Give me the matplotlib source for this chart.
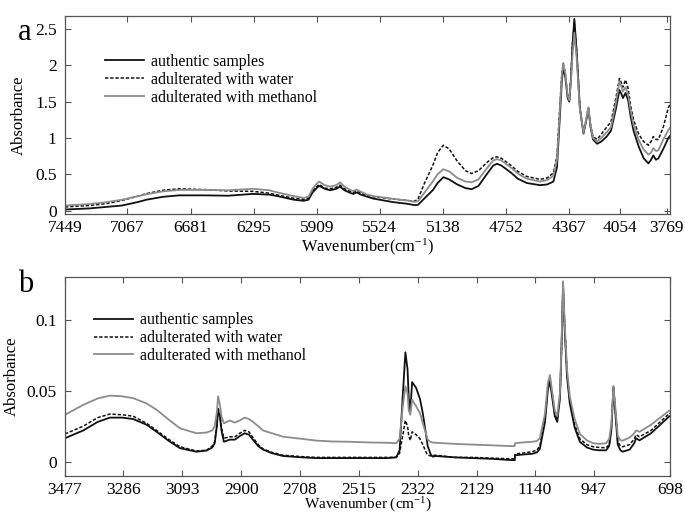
import numpy as np
import matplotlib
matplotlib.use("Agg")
import matplotlib.pyplot as plt

plt.rcParams["font.family"] = ["Liberation Serif", "DejaVu Serif"]
plt.rcParams["mathtext.fontset"] = "custom"
plt.rcParams["mathtext.rm"] = "Liberation Serif"
plt.rcParams["mathtext.it"] = "Liberation Serif:italic"

series_labels = ["authentic samples", "adulterated with water", "adulterated with methanol"]

# ---- panel a (NIR region)
wn_a = [7449, 7300, 7200, 7100, 7000, 6950, 6850, 6750, 6600, 6450,
        6300, 6200, 6150, 6050, 5990, 5960, 5935, 5910, 5895, 5860,
        5828, 5790, 5767, 5740, 5700, 5686, 5665, 5640, 5600, 5563,
        5500, 5450, 5400, 5359, 5310, 5290, 5250, 5200, 5170, 5135,
        5100, 5050, 5000, 4962, 4920, 4870, 4830, 4807, 4780, 4720,
        4680, 4625, 4544, 4500, 4462, 4440, 4425, 4410, 4402, 4390,
        4375, 4365, 4355, 4345, 4334, 4320, 4300, 4278, 4265, 4248,
        4235, 4220, 4195, 4170, 4136, 4110, 4080, 4058, 4045, 4037,
        4021, 4005, 3990, 3972, 3940, 3910, 3881, 3865, 3851, 3835,
        3820, 3790, 3759, 3749]

auth_a = [0.015, 0.03, 0.05, 0.07, 0.12, 0.15, 0.19, 0.21, 0.21, 0.205,
          0.23, 0.22, 0.20, 0.15, 0.135, 0.15, 0.25, 0.31, 0.34, 0.30,
          0.28, 0.30, 0.33, 0.28, 0.24, 0.23, 0.25, 0.22, 0.19, 0.165,
          0.14, 0.12, 0.105, 0.095, 0.075, 0.08, 0.17, 0.28, 0.38, 0.46,
          0.43, 0.36, 0.31, 0.295, 0.34, 0.50, 0.62, 0.645, 0.62, 0.52,
          0.44, 0.38, 0.35, 0.36, 0.40, 0.60, 1.2, 1.8, 1.96, 1.85,
          1.55, 1.50, 1.8, 2.3, 2.64, 2.2, 1.4, 1.06, 1.20, 1.40,
          1.15, 0.98, 0.92, 0.95, 1.02, 1.10, 1.40, 1.66, 1.60, 1.55,
          1.62, 1.52, 1.30, 1.10, 0.88, 0.72, 0.65, 0.70, 0.76, 0.70,
          0.72, 0.85, 1.00, 1.03]

water_a = [0.05, 0.07, 0.095, 0.14, 0.20, 0.235, 0.28, 0.30, 0.29, 0.27,
           0.265, 0.24, 0.215, 0.17, 0.155, 0.17, 0.27, 0.33, 0.36, 0.31,
           0.30, 0.32, 0.35, 0.30, 0.26, 0.25, 0.27, 0.24, 0.21, 0.19,
           0.175, 0.16, 0.15, 0.14, 0.13, 0.16, 0.38, 0.62, 0.80, 0.90,
           0.85, 0.68, 0.55, 0.51, 0.55, 0.66, 0.73, 0.74, 0.72, 0.62,
           0.54, 0.47, 0.43, 0.45, 0.52, 0.75, 1.35, 1.90, 2.03, 1.90,
           1.58, 1.52, 1.85, 2.3, 2.58, 2.2, 1.42, 1.08, 1.22, 1.42,
           1.18, 1.02, 0.98, 1.05, 1.15, 1.22, 1.55, 1.82, 1.75, 1.70,
           1.80, 1.68, 1.45, 1.25, 1.05, 0.95, 0.90, 0.95, 1.02, 0.98,
           0.98, 1.15, 1.42, 1.46]

meth_a = [0.07, 0.09, 0.115, 0.15, 0.20, 0.225, 0.265, 0.285, 0.285, 0.28,
          0.30, 0.28, 0.25, 0.20, 0.175, 0.19, 0.30, 0.37, 0.40, 0.35,
          0.33, 0.35, 0.39, 0.33, 0.28, 0.27, 0.29, 0.26, 0.22, 0.20,
          0.18, 0.165, 0.15, 0.14, 0.12, 0.13, 0.25, 0.40, 0.50, 0.57,
          0.54, 0.45, 0.40, 0.39, 0.43, 0.58, 0.69, 0.71, 0.69, 0.59,
          0.51, 0.44, 0.40, 0.42, 0.48, 0.70, 1.3, 1.88, 2.02, 1.90,
          1.58, 1.52, 1.78, 2.15, 2.45, 2.1, 1.40, 1.07, 1.21, 1.42,
          1.16, 1.00, 0.95, 1.00, 1.08, 1.15, 1.48, 1.78, 1.70, 1.64,
          1.70, 1.60, 1.38, 1.18, 0.97, 0.84, 0.77, 0.80, 0.86, 0.82,
          0.83, 0.98, 1.11, 1.14]

ticks_a = [7449, 7067, 6681, 6295, 5909, 5524, 5138, 4752, 4367, 4054, 3769]

# ---- panel b (MIR region, axis broken between 2005 and 1205)
wn_b = [3477, 3417, 3370, 3330, 3290, 3254, 3210, 3177, 3140, 3101,
        3047, 3014, 2995, 2987, 2980, 2976, 2970, 2965, 2957, 2938,
        2921, 2905, 2889, 2875, 2862, 2845, 2829, 2800, 2764, 2700,
        2654, 2600, 2546, 2480, 2420, 2393, 2382, 2372, 2363, 2356,
        2352, 2347, 2341, 2328, 2315, 2306, 2296, 2290, 2280, 2273,
        2265, 2200, 2143, 2080, 2023, 2005, 1205, 1180, 1150, 1134,
        1124, 1107, 1098, 1091, 1084, 1075, 1067, 1058, 1053, 1048,
        1043, 1035, 1026, 1010, 993, 970, 950, 930, 907, 897,
        890, 883, 876, 869, 860, 853, 830, 815, 809, 798,
        760, 730, 700, 698]

auth_b = [0.0165, 0.022, 0.028, 0.031, 0.031, 0.030, 0.026, 0.021, 0.015, 0.0095,
          0.007, 0.0078, 0.010, 0.013, 0.025, 0.036, 0.032, 0.022, 0.014, 0.0155,
          0.0155, 0.018, 0.020, 0.019, 0.0155, 0.011, 0.0085, 0.006, 0.004, 0.003,
          0.0025, 0.0025, 0.0025, 0.0025, 0.0025, 0.003, 0.008, 0.045, 0.077, 0.065,
          0.045, 0.035, 0.056, 0.052, 0.044, 0.034, 0.020, 0.011, 0.005, 0.0035,
          0.004, 0.003, 0.0025, 0.002, 0.0012, 0.001, 0.0045, 0.005, 0.0055, 0.0065,
          0.009, 0.028, 0.050, 0.057, 0.046, 0.032, 0.028, 0.045, 0.08, 0.124,
          0.095, 0.06, 0.041, 0.024, 0.014, 0.010, 0.0085, 0.008, 0.008, 0.011,
          0.022, 0.052, 0.032, 0.012, 0.008, 0.007, 0.0085, 0.013, 0.0165, 0.015,
          0.020, 0.026, 0.032, 0.032]

water_b = [0.0195, 0.025, 0.031, 0.0335, 0.033, 0.032, 0.027, 0.022, 0.016, 0.0105,
           0.0075, 0.008, 0.011, 0.014, 0.026, 0.038, 0.033, 0.024, 0.0165, 0.0175,
           0.0175, 0.020, 0.022, 0.021, 0.017, 0.012, 0.009, 0.0065, 0.0045, 0.0035,
           0.003, 0.003, 0.003, 0.003, 0.003, 0.0032, 0.006, 0.018, 0.029, 0.025,
           0.018, 0.015, 0.021, 0.019, 0.016, 0.012, 0.007, 0.0047, 0.004, 0.0045,
           0.0045, 0.003, 0.003, 0.0025, 0.002, 0.002, 0.0055, 0.006, 0.007, 0.008,
           0.011, 0.031, 0.052, 0.058, 0.048, 0.034, 0.030, 0.047, 0.081, 0.126,
           0.097, 0.062, 0.043, 0.026, 0.016, 0.012, 0.0105, 0.010, 0.0098, 0.012,
           0.023, 0.053, 0.034, 0.014, 0.011, 0.0105, 0.012, 0.016, 0.019, 0.0175,
           0.022, 0.028, 0.034, 0.034]

meth_b = [0.033, 0.040, 0.0445, 0.0465, 0.046, 0.0447, 0.041, 0.0365, 0.030, 0.0235,
          0.020, 0.0205, 0.022, 0.025, 0.035, 0.046, 0.040, 0.032, 0.027, 0.029,
          0.0275, 0.029, 0.031, 0.030, 0.028, 0.025, 0.022, 0.020, 0.0176, 0.016,
          0.0148, 0.0142, 0.014, 0.0135, 0.0133, 0.013, 0.016, 0.038, 0.053, 0.048,
          0.036, 0.033, 0.0435, 0.039, 0.034, 0.027, 0.020, 0.0155, 0.0138, 0.0134,
          0.0133, 0.0125, 0.012, 0.0115, 0.011, 0.011, 0.013, 0.0135, 0.014, 0.0145,
          0.0165, 0.034, 0.055, 0.061, 0.050, 0.036, 0.032, 0.049, 0.083, 0.127,
          0.099, 0.065, 0.046, 0.030, 0.0195, 0.015, 0.013, 0.0125, 0.013, 0.016,
          0.026, 0.053, 0.036, 0.018, 0.015, 0.0148, 0.017, 0.020, 0.022, 0.021,
          0.026, 0.031, 0.036, 0.036]

ticks_b = [3477, 3286, 3093, 2900, 2708, 2515, 2322, 2129, 1140, 947, 698]

# broken wavenumber axis for panel b (gap 1205..2005 squeezed to one unit)
brk_w = [0, 698, 1205, 2005, 3477, 6000]
brk_p = [-698, 0, 507, 508, 1980, 4503]


def fwd(w):
    return np.interp(np.asarray(w, dtype=float), brk_w, brk_p)


def inv(p):
    return np.interp(np.asarray(p, dtype=float), brk_p, brk_w)


styles = [dict(color="#111111", ls="-", lw=1.3),
          dict(color="#111111", ls=(0, (2.2, 1.2)), lw=1.1),
          dict(color="#8c8c8c", ls="-", lw=1.3)]

fig = plt.figure(figsize=(6.85, 5.14), dpi=100)
ax1 = fig.add_axes([65 / 685, 1 - 213.5 / 514, 605 / 685, 197.5 / 514])
ax2 = fig.add_axes([65 / 685, 1 - 476 / 514, 605 / 685, 199 / 514])

for y, st, lab in zip([auth_a, water_a, meth_a], styles, series_labels):
    ax1.plot(wn_a, y, label=lab, **st)
ax1.set_xlim(7449, 3749)
ax1.set_ylim(-0.04, 2.68)
ax1.set_xticks(ticks_a)
ax1.set_xticklabels([str(t) for t in ticks_a])
ax1.set_yticks([0, 0.5, 1, 1.5, 2, 2.5])
ax1.set_yticklabels(["0", "0.5", "1", "1.5", "2", "2.5"])

ax2.set_xscale("function", functions=(fwd, inv))
for y, st, lab in zip([auth_b, water_b, meth_b], styles, series_labels):
    ax2.plot(wn_b, y, label=lab, **st)
ax2.set_xlim(3477, 698)
ax2.set_ylim(-0.0101, 0.13)
ax2.set_xticks(ticks_b)
ax2.set_xticklabels([str(t) for t in ticks_b])
ax2.xaxis.set_minor_locator(matplotlib.ticker.NullLocator())
ax2.set_yticks([0, 0.05, 0.1])
ax2.set_yticklabels(["0", "0.05", "0.1"])

for ax in (ax1, ax2):
    ax.tick_params(direction="in", top=True, right=True, length=4, width=0.8,
                   color="#555555", labelsize=12.5)
    ax.tick_params(axis="y", pad=6)
    for s in ax.spines.values():
        s.set_color("#555555")
        s.set_linewidth(0.9)
    ax.set_ylabel("Absorbance", fontsize=12)

ax1.tick_params(axis="x", pad=5)
ax2.tick_params(axis="x", pad=4)

ax1.set_xlabel("Wavenumber(cm$^{-1}$)", fontsize=11.8, labelpad=0)
ax2.set_xlabel("Wavenumber (cm$^{-1}$)", fontsize=11)
ax2.xaxis.set_label_coords(0.5, -19.5 / 199)

ax1.yaxis.set_label_coords(-38 / 605, 0.5)
ax2.yaxis.set_label_coords(-45 / 605, 0.5)

ax1.legend(loc="upper left", bbox_to_anchor=(0.055, 0.84), frameon=False,
           fontsize=11.4, handlelength=2.5, handletextpad=0.45,
           labelspacing=0.12, borderaxespad=0)
ax2.legend(loc="upper left", bbox_to_anchor=(0.037, 0.855), frameon=False,
           fontsize=11.4, handlelength=2.5, handletextpad=0.45,
           labelspacing=0.12, borderaxespad=0)

fig.text(25 / 685, 1 - 33 / 514, "a", fontsize=22, ha="center", va="center")
fig.text(26 / 685, 1 - 285 / 514, "b", fontsize=22, ha="center", va="center")

fig.savefig("out.png", dpi=100)
